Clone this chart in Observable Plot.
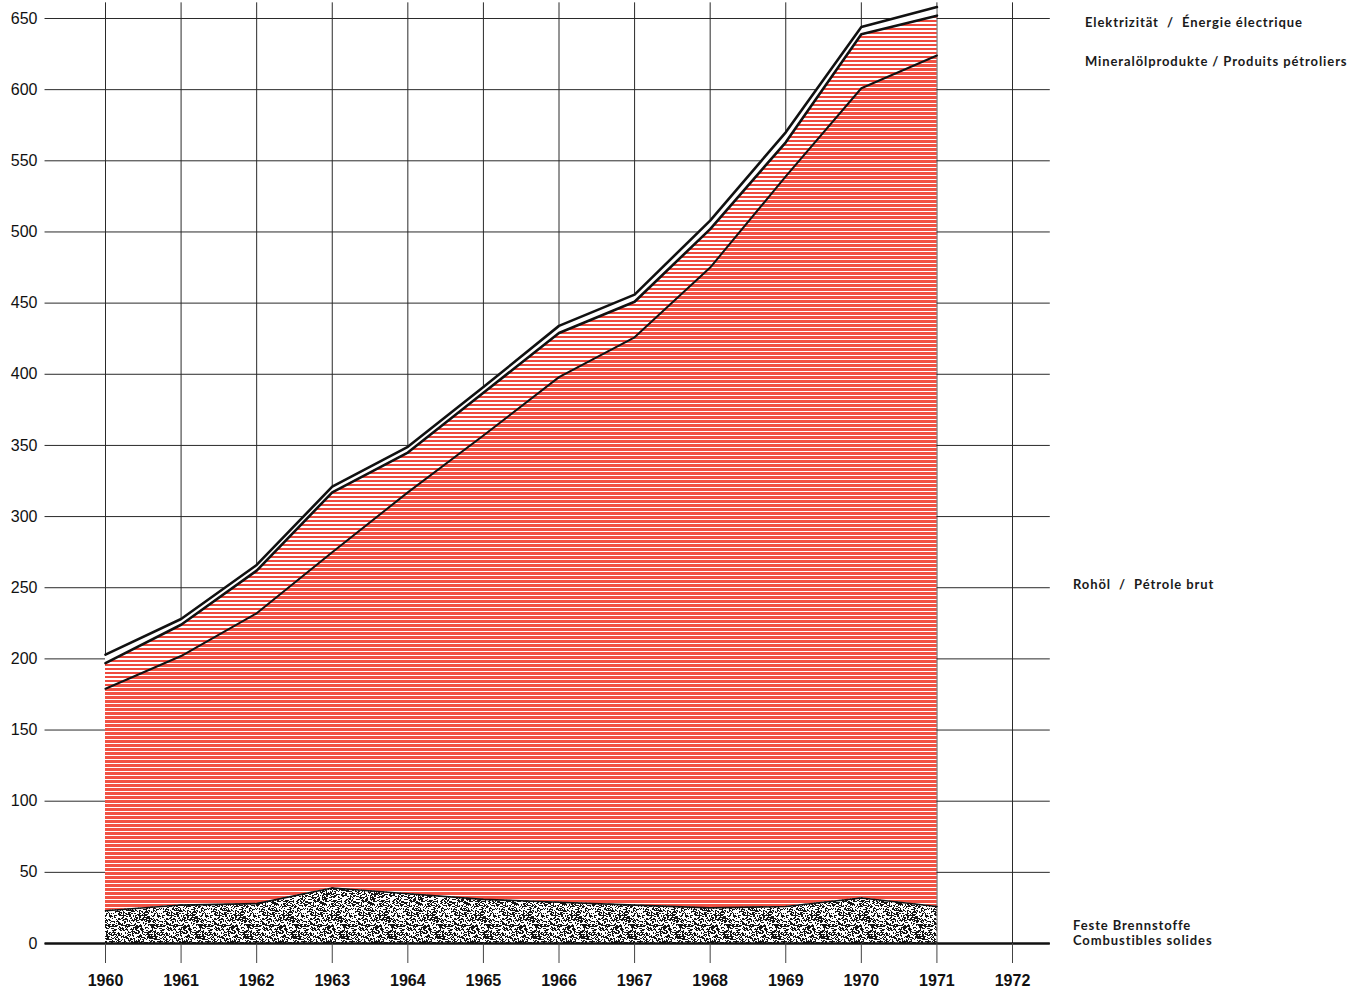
<!DOCTYPE html>
<html>
<head>
<meta charset="utf-8">
<script src="https://cdn.jsdelivr.net/npm/d3@7"></script>
<script src="https://cdn.jsdelivr.net/npm/@observablehq/plot@0.6"></script>
<style>
  html, body { margin: 0; padding: 0; background: #fff; }
  #wrap { position: relative; width: 1364px; height: 992px; overflow: hidden; }
  .lab { position: absolute; font-family: Lato, "Open Sans", sans-serif; font-weight: 700; font-size: 13px; color: #1a1a1a; letter-spacing: 0.9px; white-space: pre; line-height: 15px; }
  svg g[aria-label="x-axis tick label"] text { font-weight: 700; }
</style>
</head>
<body>
<div id="wrap"></div>
<script>
// ---- data (cumulative upper boundaries of each layer) ----
const years       = [1960, 1961, 1962, 1963, 1964, 1965, 1966, 1967, 1968, 1969, 1970, 1971];
const solidFuels  = [23, 27, 28, 39, 35, 31, 29, 27, 25, 26, 32, 26];
const crudeOil    = [179, 202, 232, 275, 317, 357, 398, 426, 475, 539, 601, 624];
const oilProducts = [197, 224, 262, 317, 345, 387, 429, 451, 502, 563, 639, 652];
const electricity = [203, 228, 266, 321, 349, 391, 434, 456, 508, 570, 644, 658];
const yTicks = [0, 50, 100, 150, 200, 250, 300, 350, 400, 450, 500, 550, 600, 650];
const xTicks = [1960, 1961, 1962, 1963, 1964, 1965, 1966, 1967, 1968, 1969, 1970, 1971, 1972];
const labels = [
  {text: "Elektrizität  /  Énergie électrique", left: 1085, top: 15},
  {text: "Mineralölprodukte / Produits pétroliers", left: 1085, top: 54},
  {text: "Rohöl  /  Pétrole brut", left: 1073, top: 577},
  {text: "Feste Brennstoffe\nCombustibles solides", left: 1073, top: 918}
];

const data = years.map((year, i) => ({
  year, solid: solidFuels[i], crude: crudeOil[i], products: oilProducts[i], elec: electricity[i]
}));

const gridX1 = 1959.2, gridX2 = 1972.5, gridTop = 661;

const chart = Plot.plot({
  width: 1364,
  height: 992,
  marginLeft: 105,
  marginRight: 352,
  marginTop: 18,
  marginBottom: 49,
  style: {fontFamily: "'Liberation Sans', Arial, sans-serif", fontSize: "16px", background: "white", color: "#111"},
  x: {domain: [1960, 1972], label: null},
  y: {domain: [0, 650], label: null},
  marks: [
    Plot.ruleY(yTicks, {x1: gridX1, x2: gridX2, stroke: "#2a2a2a", strokeWidth: 1}),
    Plot.ruleX(xTicks, {y1: 0, y2: gridTop, stroke: "#2a2a2a", strokeWidth: 1}),
    Plot.areaY(data, {x: "year", y1: "products", y2: "elec", fill: "white"}),
    Plot.areaY(data, {x: "year", y1: "crude", y2: "products", fill: "url(#stripesLight)"}),
    Plot.areaY(data, {x: "year", y1: "solid", y2: "crude", fill: "url(#stripes)"}),
    Plot.areaY(data, {x: "year", y1: 0, y2: "solid", fill: "url(#stipple)"}),
    Plot.lineY(data, {x: "year", y: "solid", stroke: "#111", strokeWidth: 1.6}),
    Plot.lineY(data, {x: "year", y: "crude", stroke: "#111", strokeWidth: 2}),
    Plot.lineY(data, {x: "year", y: "products", stroke: "#111", strokeWidth: 2.6}),
    Plot.lineY(data, {x: "year", y: "elec", stroke: "#111", strokeWidth: 2.6}),
    Plot.ruleY([0], {x1: gridX1, x2: gridX2, stroke: "#111", strokeWidth: 2.5}),
    Plot.axisX({ticks: xTicks, tickFormat: d => String(d), tickSize: 20, tickPadding: 11, fontSize: 16, fontWeight: "bold", stroke: "#444"}),
    Plot.axisY({ticks: yTicks, tickSize: 0, tickPadding: 68, fontSize: 16})
  ]
});

// fill textures (style only)
const svg = d3.select(chart);
const defs = svg.insert("defs", ":first-child");
const p1 = defs.append("pattern").attr("id", "stripes").attr("patternUnits", "userSpaceOnUse").attr("width", 8).attr("height", 4);
p1.append("rect").attr("width", 8).attr("height", 4).attr("fill", "#fff");
p1.append("rect").attr("width", 8).attr("height", 3).attr("fill", "#f25244");
const p2 = defs.append("pattern").attr("id", "stripesLight").attr("patternUnits", "userSpaceOnUse").attr("width", 8).attr("height", 4);
p2.append("rect").attr("width", 8).attr("height", 4).attr("fill", "#fff");
p2.append("rect").attr("width", 8).attr("height", 2).attr("fill", "#f04a3e");
// speckle texture tile built from a fixed hash (a visual texture, not data)
const T = 48;
const p3 = defs.append("pattern").attr("id", "stipple").attr("patternUnits", "userSpaceOnUse").attr("width", T).attr("height", T);
p3.append("rect").attr("width", T).attr("height", T).attr("fill", "#fff");
const hash = (x, y) => { const s = Math.sin(x * 12.9898 + y * 78.233) * 43758.5453; return s - Math.floor(s); };
let dpath = "";
for (let y = 0; y < T; y++) for (let x = 0; x < T; x++) {
  const h = hash(x, y);
  if (h < 0.42) dpath += `M${x},${y}h${h < 0.12 ? 2 : 1}v1h-${h < 0.12 ? 2 : 1}z`;
}
p3.append("path").attr("d", dpath).attr("fill", "#161616");

const wrap = document.getElementById("wrap");
wrap.appendChild(chart);
for (const l of labels) {
  const d = document.createElement("div");
  d.className = "lab";
  d.style.left = l.left + "px";
  d.style.top = l.top + "px";
  d.textContent = l.text;
  wrap.appendChild(d);
}
</script>
</body>
</html>
